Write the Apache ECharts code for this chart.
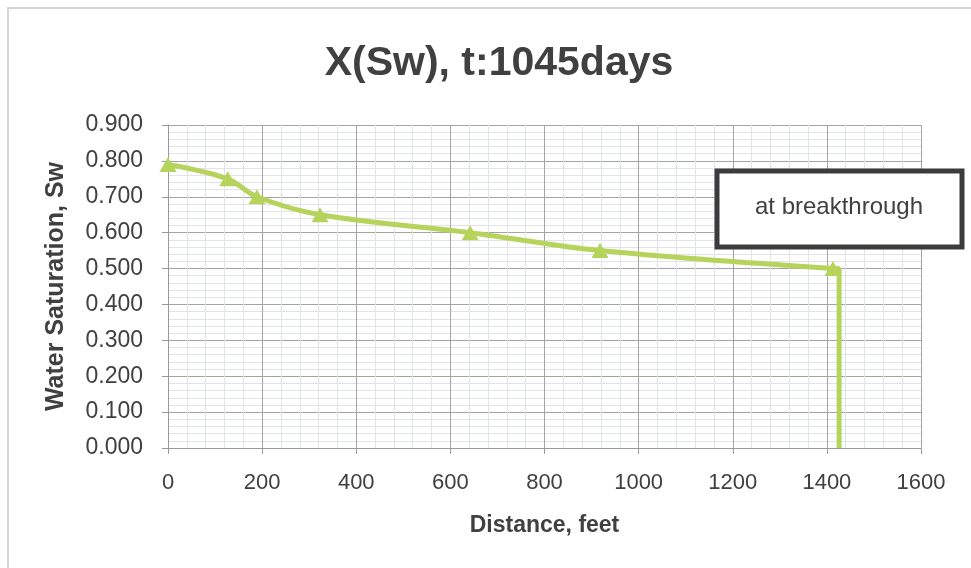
<!DOCTYPE html>
<html>
<head>
<meta charset="utf-8">
<script src="https://cdn.jsdelivr.net/npm/echarts@6/dist/echarts.min.js"></script>
<style>
html,body{margin:0;padding:0;background:#fff;}
#chart{width:971px;height:568px;}
</style>
</head>
<body>
<div id="chart"></div>
<script>
// Data
const distanceFt = [0, 127, 189, 323, 642, 918, 1413];
const waterSat = [0.79, 0.75, 0.70, 0.65, 0.60, 0.55, 0.50];
const frontX = [1413, 1426, 1426];
const frontY = [0.50, 0.50, 0.00];
const xTicks = [0, 200, 400, 600, 800, 1000, 1200, 1400, 1600];
const yTicks = [0.0, 0.1, 0.2, 0.3, 0.4, 0.5, 0.6, 0.7, 0.8, 0.9];
const titleText = 'X(Sw), t:1045days';
const xName = 'Distance, feet';
const yName = 'Water Saturation, Sw';
const annotation = 'at breakthrough';

const curveData = distanceFt.map((x, i) => [x, waterSat[i]]);
const frontData = frontX.map((x, i) => [x, frontY[i]]);

const textColor = '#404040';
const font = 'Liberation Sans';
const green = '#B6D35C';

const chart = echarts.init(document.getElementById('chart'), null, {renderer: 'canvas'});
chart.setOption({
  backgroundColor: '#ffffff',
  animation: false,
  title: {
    text: titleText,
    left: 494,
    textAlign: 'center',
    top: 38,
    textStyle: {fontFamily: font, fontSize: 41, fontWeight: 'bold', color: textColor}
  },
  grid: {left: 168, right: 50, top: 125, bottom: 120, containLabel: false},
  xAxis: {
    type: 'value',
    min: xTicks[0], max: xTicks[xTicks.length - 1], interval: 200,
    name: xName, nameLocation: 'middle', nameGap: 66,
    nameTextStyle: {fontFamily: font, fontSize: 23, fontWeight: 'bold', color: textColor},
    axisLine: {show: true, lineStyle: {color: '#9a9a9a', width: 1}},
    axisTick: {show: true, length: 6, lineStyle: {color: '#9a9a9a'}},
    axisLabel: {margin: 24, fontFamily: font, fontSize: 22, color: textColor,
      formatter: v => String(v)},
    splitLine: {show: true, lineStyle: {color: '#a4a4a4', width: 1}},
    minorTick: {show: false, splitNumber: 5},
    minorSplitLine: {show: true, lineStyle: {color: '#e0e3e9', width: 1}}
  },
  yAxis: {
    type: 'value',
    min: yTicks[0], max: yTicks[yTicks.length - 1], interval: 0.1,
    name: yName, nameLocation: 'middle', nameGap: 99, nameRotate: 90,
    nameTextStyle: {fontFamily: font, fontSize: 25, fontWeight: 'bold', color: textColor},
    axisLine: {show: true, lineStyle: {color: '#9a9a9a', width: 1}},
    axisTick: {show: true, length: 6, lineStyle: {color: '#9a9a9a'}},
    axisLabel: {margin: 25, fontFamily: font, fontSize: 23, color: textColor,
      formatter: v => v.toFixed(3)},
    splitLine: {show: true, lineStyle: {color: '#a4a4a4', width: 1}},
    minorTick: {show: false, splitNumber: 5},
    minorSplitLine: {show: true, lineStyle: {color: '#e0e3e9', width: 1}}
  },
  series: [
    {
      type: 'line',
      data: curveData,
      smooth: 0.35,
      symbol: 'triangle',
      symbolSize: [17, 15],
      itemStyle: {color: green},
      lineStyle: {color: green, width: 5},
      z: 3
    },
    {
      type: 'line',
      data: frontData,
      smooth: false,
      showSymbol: false,
      symbol: 'none',
      lineStyle: {color: green, width: 5},
      z: 2
    }
  ],
  graphic: {
    elements: [
      {
        type: 'rect',
        shape: {x: 8, y: 8, width: 980, height: 580},
        style: {fill: 'none', stroke: '#d4d4d4', lineWidth: 2},
        z: 0, silent: true
      },
      {
        type: 'rect',
        shape: {x: 717, y: 171, width: 245, height: 76},
        style: {fill: '#ffffff', stroke: '#3c3c3c', lineWidth: 5},
        z: 100, zlevel: 1
      },
      {
        type: 'text',
        x: 839, y: 207,
        style: {text: annotation, fontFamily: font, fontSize: 24, fill: textColor,
          align: 'center', verticalAlign: 'middle'},
        z: 101, zlevel: 1
      }
    ]
  }
});
</script>
</body>
</html>
